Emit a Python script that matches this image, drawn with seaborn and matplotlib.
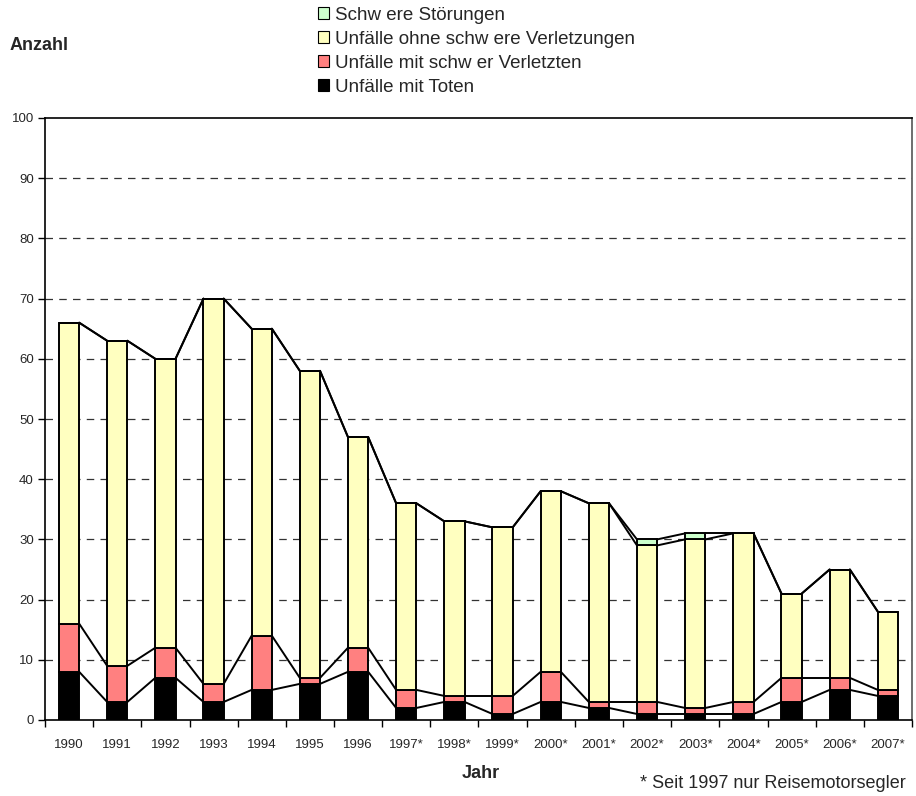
import matplotlib
matplotlib.use("Agg")
import matplotlib.pyplot as plt
import seaborn as sns
import numpy as np
import pandas as pd
from matplotlib.patches import Patch

years = ["1990", "1991", "1992", "1993", "1994", "1995", "1996", "1997*", "1998*",
         "1999*", "2000*", "2001*", "2002*", "2003*", "2004*", "2005*", "2006*", "2007*"]
toten = [8, 3, 7, 3, 5, 6, 8, 2, 3, 1, 3, 2, 1, 1, 1, 3, 5, 4]
schwer_verletzt = [8, 6, 5, 3, 9, 1, 4, 3, 1, 3, 5, 1, 2, 1, 2, 4, 2, 1]
ohne_schwer = [50, 54, 48, 64, 51, 51, 35, 31, 29, 28, 30, 33, 26, 28, 28, 14, 18, 13]
stoerungen = [0, 0, 0, 0, 0, 0, 0, 0, 0, 0, 0, 0, 1, 1, 0, 0, 0, 0]

legend_labels = ["Schw ere Störungen", "Unfälle ohne schw ere Verletzungen",
                 "Unfälle mit schw er Verletzten", "Unfälle mit Toten"]
colors = ["#000000", "#FF8080", "#FFFFC0", "#CCFFCC"]

sns.set_theme(style="white")
plt.rcParams['font.family'] = ['Liberation Sans', 'DejaVu Sans']

fig = plt.figure(figsize=(9.16, 7.96), dpi=100)
ax = fig.add_axes([45/916, 1-720/796, (912-45)/916, (720-118)/796])

series = [toten, schwer_verletzt, ohne_schwer, stoerungen]
bottom = np.zeros(len(years))
width = 0.42
tops = []
for vals, col in zip(series, colors):
    vals = np.array(vals, dtype=float)
    sns.barplot(x=years, y=vals, bottom=bottom, color=col, width=width,
                edgecolor="black", linewidth=1.4, ax=ax, saturation=1, zorder=3)
    bottom = bottom + vals
    tops.append(bottom.copy())

# series lines connecting bar tops
n = len(years)
for lvl in tops:
    for i in range(n - 1):
        ax.plot([i + width/2, i + 1 - width/2], [lvl[i], lvl[i+1]],
                color="black", lw=1.4, zorder=2)

ax.set_xlim(-0.5, n - 0.5)
ax.set_ylim(0, 100)
ax.set_yticks(range(0, 101, 10))
ax.set_yticklabels([str(v) for v in range(0, 101, 10)], fontsize=9.5)
ax.set_xticks(range(n))
ax.set_xticklabels(years, fontsize=9.5)
ax.tick_params(axis="x", which="major", length=0, pad=14)
ax.set_xticks(np.arange(-0.5, n, 1.0), minor=True)
ax.tick_params(axis="x", which="minor", length=5, width=1, color="black", direction="out", bottom=True)
ax.tick_params(axis="y", length=5, width=1, color="black", direction="out", left=True, pad=3)
for s in ax.spines.values():
    s.set_color("black")
    s.set_linewidth(1.2)
ax.spines["right"].set_color("#555555")

for yv in range(10, 100, 10):
    ax.axhline(yv, color="#333333", lw=0.9, ls=(0, (6, 5)), zorder=1)

ax.set_xlabel("")
ax.set_ylabel("")

fig.text(10/916, 1-45/796, "Anzahl", fontsize=13, fontweight="bold", va="center", ha="left")
fig.text(481/916, 1-774/796, "Jahr", fontsize=13, fontweight="bold", va="center", ha="center")
fig.text(906/916, 1-784/796, "* Seit 1997 nur Reisemotorsegler", fontsize=13, va="center", ha="right")

handles = [Patch(facecolor=c, edgecolor="black", linewidth=0.8) for c in colors[::-1]]
fig.legend(handles, legend_labels, loc="upper left", bbox_to_anchor=(310/916, 1 + 1/796),
           frameon=False, fontsize=13.5, handlelength=0.6, handleheight=0.6,
           handletextpad=0.35, labelspacing=0.38, borderaxespad=0)

fig.savefig("out.png", dpi=100)
